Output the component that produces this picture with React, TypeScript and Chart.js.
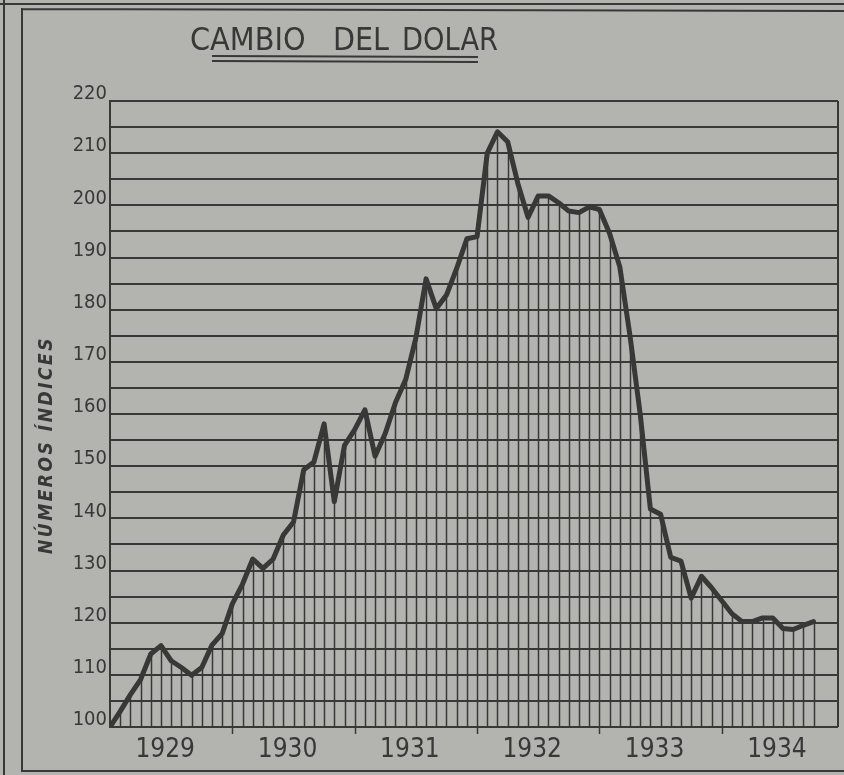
import React, { useEffect, useRef } from 'react';
import { Chart, registerables } from 'chart.js';

Chart.register(...registerables);

// ---------- data ----------
const TITLE = 'CAMBIO DEL DOLAR';
const Y_TITLE = 'NÚMEROS ÍNDICES';
const YEARS = ['1929', '1930', '1931', '1932', '1933', '1934'];
const Y_LABELS = [100, 110, 120, 130, 140, 150, 160, 170, 180, 190, 200, 210, 220];
// monthly index numbers, January 1929 = 100
const INDEX_VALUES = [
  100, 103, 106.2, 109.1, 114, 115.6, 112.7, 111.4, 109.9, 111.4, 115.7, 117.9,
  123.6, 127.4, 132.2, 130.4, 132.2, 136.8, 139.3, 149.3, 150.8, 158.1, 143.2, 154,
  157, 160.8, 151.9, 156.3, 162.2, 166.6, 174.6, 185.9, 180.2, 182.8, 187.9, 193.6,
  194, 210, 214.1, 212.2, 204.2, 197.7, 201.8, 201.8, 200.5, 198.9, 198.6, 199.7,
  199.2, 194.6, 188.2, 175, 160, 141.8, 140.8, 132.5, 131.8, 124.7, 128.9, 126.7,
  124.2, 121.7, 120.2, 120.2, 120.9, 120.9, 118.9, 118.7, 119.5, 120.2,
];

// ---------- style ----------
const INK = '#383838';
const PAPER = '#b3b3af';
const FONT = "'DejaVu Sans Condensed', 'Liberation Sans Narrow', 'DejaVu Sans', sans-serif";

const decorPlugin = {
  id: 'decor',
  beforeDraw(chart: any) {
    const { ctx, width, height } = chart;
    ctx.save();
    ctx.fillStyle = PAPER;
    ctx.fillRect(0, 0, width, height);
    ctx.strokeStyle = INK;
    ctx.lineWidth = 2;
    ctx.beginPath();
    ctx.moveTo(4, 0); ctx.lineTo(4, height);
    ctx.moveTo(22, 8); ctx.lineTo(22, 772);
    ctx.moveTo(0, 4); ctx.lineTo(width, 4);
    ctx.moveTo(22, 9); ctx.lineTo(width, 11);
    ctx.moveTo(22, 771); ctx.lineTo(width, 771);
    ctx.stroke();
    ctx.restore();
  },
  beforeDatasetsDraw(chart: any) {
    const { ctx, chartArea, scales } = chart;
    const xs = scales.x;
    const ys = scales.y;
    ctx.save();
    ctx.strokeStyle = INK;
    ctx.lineWidth = 1.5;
    ctx.beginPath();
    INDEX_VALUES.forEach((v, i) => {
      const x = Math.round(xs.getPixelForValue(i)) + 0.5;
      ctx.moveTo(x, ys.getPixelForValue(v));
      ctx.lineTo(x, chartArea.bottom);
    });
    // year boundary ticks
    YEARS.forEach((_, k) => {
      if (k === 0) return;
      const x = Math.round(xs.getPixelForValue(12 * k)) + 0.5;
      ctx.moveTo(x, chartArea.bottom);
      ctx.lineTo(x, chartArea.bottom + 7);
    });
    ctx.stroke();
    // right border
    ctx.lineWidth = 2;
    ctx.beginPath();
    ctx.moveTo(chartArea.right, chartArea.top);
    ctx.lineTo(chartArea.right, chartArea.bottom);
    ctx.stroke();
    ctx.restore();
  },
  afterDraw(chart: any) {
    const { ctx } = chart;
    ctx.save();
    ctx.fillStyle = INK;
    ctx.strokeStyle = INK;
    // main title, word by word (wide word spacing as in the original)
    ctx.font = `32px ${FONT}`;
    ctx.textAlign = 'left';
    ctx.textBaseline = 'alphabetic';
    const words = TITLE.split(' ');
    const starts = [190, 333, 402];
    const widths = [118, 56, 96];
    words.forEach((w, k) => ctx.fillText(w, starts[k], 50, widths[k]));
    ctx.lineWidth = 2;
    ctx.beginPath();
    ctx.moveTo(212, 56); ctx.lineTo(478, 57);
    ctx.moveTo(212, 61); ctx.lineTo(478, 62);
    ctx.stroke();
    // y title
    ctx.translate(47, 446);
    ctx.rotate(-Math.PI / 2);
    ctx.font = `italic bold 19px ${FONT}`;
    ctx.textAlign = 'center';
    ctx.textBaseline = 'middle';
    (ctx as any).letterSpacing = '2.5px';
    ctx.fillText(Y_TITLE, 1, 0, 228);
    ctx.restore();
  },
};

export default function App() {
  const ref = useRef<HTMLCanvasElement | null>(null);

  useEffect(() => {
    document.body.style.margin = '0';
    document.body.style.background = PAPER;
    const canvas = ref.current;
    if (!canvas) return;
    const chart = new Chart(canvas, {
      type: 'line',
      data: {
        datasets: [
          {
            data: INDEX_VALUES.map((v, i) => ({ x: i, y: v })),
            borderColor: INK,
            borderWidth: 5,
            pointRadius: 0,
            tension: 0,
            fill: false,
            borderJoinStyle: 'round',
            borderCapStyle: 'round',
          },
        ],
      },
      options: {
        animation: false,
        responsive: false,
        devicePixelRatio: 1,
        layout: { padding: { top: 101, right: 6, left: 0, bottom: 0 } },
        plugins: { legend: { display: false }, title: { display: false }, tooltip: { enabled: false } },
        scales: {
          x: {
            type: 'linear',
            min: 0,
            max: 71.4,
            afterBuildTicks: (s: any) => {
              s.ticks = YEARS.map((_, k) => ({ value: 12 * k + 6 }));
            },
            afterFit: (s: any) => {
              s.height = 48;
            },
            ticks: {
              autoSkip: false,
              maxRotation: 0,
              padding: 8,
              labelOffset: -6,
              color: INK,
              font: { family: FONT, size: 26 },
              callback: (_v: any, i: number) => YEARS[i],
            },
            grid: { display: false, drawTicks: false },
            border: { display: false },
          },
          y: {
            min: 100,
            max: 220,
            afterFit: (s: any) => {
              s.width = 110;
            },
            ticks: {
              stepSize: 5,
              autoSkip: false,
              padding: 3,
              labelOffset: -7,
              color: INK,
              font: { family: FONT, size: 20 },
              callback: (v: any) => (Y_LABELS.includes(Number(v)) ? String(v) : ''),
            },
            grid: { color: INK, lineWidth: 2, drawTicks: false },
            border: { display: true, color: INK, width: 2 },
          },
        },
      },
      plugins: [decorPlugin],
    } as any);
    return () => chart.destroy();
  }, []);

  return (
    <div style={{ width: 844, height: 775, background: PAPER }}>
      <canvas ref={ref} width={844} height={775} style={{ display: 'block', width: 844, height: 775 }} />
    </div>
  );
}
